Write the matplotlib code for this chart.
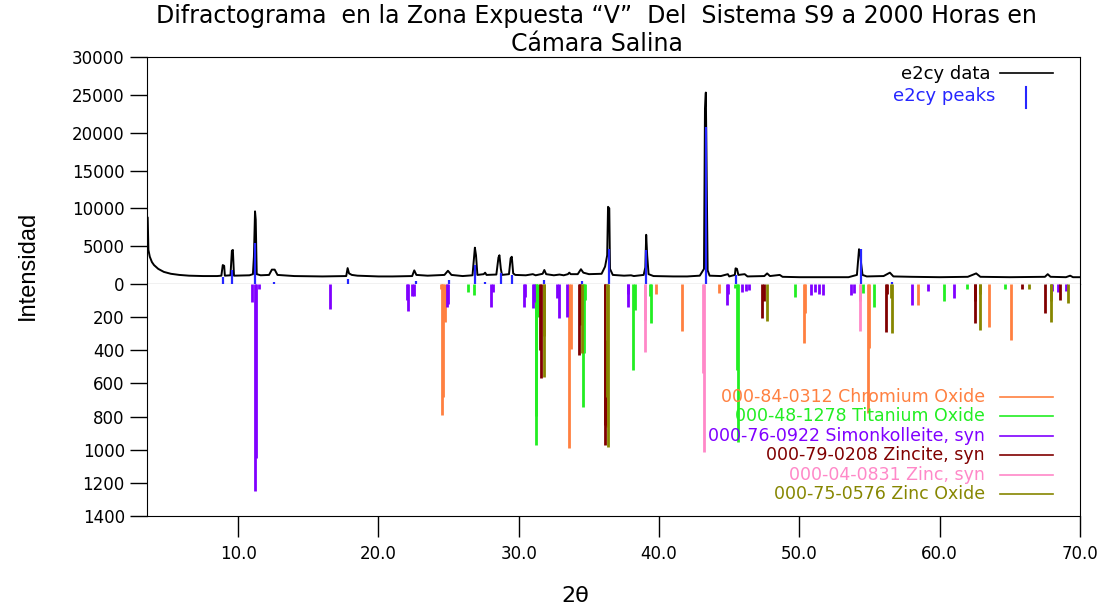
import numpy as np
import matplotlib
matplotlib.use("Agg")
import matplotlib.pyplot as plt

trace_2theta = [3.50, 3.55, 3.60, 3.70, 3.85, 4.00, 4.30, 4.70, 5.20, 5.80, 6.50, 7.50,
                8.50, 8.80, 8.90, 9.00, 9.05, 9.45, 9.55, 9.62, 9.70, 10.80, 11.05, 11.12,
                11.20, 11.25, 11.32, 11.60, 12.20, 12.40, 12.60, 12.80, 14.00, 16.00, 17.70,
                17.80, 17.90, 18.10, 18.50, 20.00, 21.00, 22.40, 22.55, 22.70, 23.50, 24.70,
                24.95, 25.20, 26.00, 26.70, 26.80, 26.87, 26.95, 27.05, 27.50, 27.60, 27.70,
                28.40, 28.55, 28.62, 28.72, 28.80, 29.30, 29.42, 29.50, 29.60, 29.75, 30.50,
                31.00, 31.20, 31.70, 31.82, 31.95, 32.50, 32.90, 33.20, 33.50, 33.60, 33.70,
                34.20, 34.43, 34.60, 35.00, 35.90, 36.15, 36.30, 36.36, 36.45, 36.50, 36.70,
                37.50, 38.00, 38.20, 38.90, 39.02, 39.08, 39.15, 39.25, 39.60, 41.00, 42.00,
                42.90, 43.20, 43.27, 43.33, 43.40, 43.46, 43.60, 44.40, 44.90, 45.00, 45.40,
                45.45, 45.55, 45.65, 46.10, 46.30, 47.50, 47.70, 47.90, 48.60, 48.80, 50.00,
                52.00, 53.50, 54.10, 54.25, 54.35, 54.40, 54.50, 54.80, 56.00, 56.45, 56.70,
                58.00, 60.00, 62.00, 62.60, 62.90, 65.00, 67.50, 67.70, 67.90, 69.00, 69.30,
                69.50, 70.00]
trace_counts = [8800, 8800, 4500, 3600, 2900, 2500, 2000, 1600, 1350, 1200, 1100, 1050,
                1050, 1100, 2500, 2400, 1100, 1150, 4400, 4500, 1100, 1150, 1300, 3600,
                9600, 8500, 1300, 1150, 1200, 1900, 1900, 1200, 1050, 1000, 1050,
                2100, 1400, 1200, 1100, 1000, 1000, 1050, 1800, 1200, 1100, 1200,
                1750, 1200, 1050, 1150, 3300, 4800, 3800, 1200, 1300, 1500, 1200,
                1250, 3500, 3800, 2000, 1200, 1300, 3400, 3600, 1400, 1200, 1150,
                1300, 1150, 1350, 1850, 1300, 1150, 1250, 1150, 1300, 1500, 1300,
                1300, 1950, 1500, 1300, 1350, 2300, 3800, 10200, 10000, 2000, 1200,
                1100, 1150, 1050, 1200, 2200, 6500, 3800, 1300, 1050, 1000, 1000,
                1100, 2000, 23200, 25300, 12900, 1800, 1100, 1050, 1300, 1000, 1200,
                2070, 2000, 1200, 1300, 1000, 1050, 1400, 1050, 1200, 950, 900,
                900, 900, 1200, 4600, 3800, 2700, 1200, 1000, 1050, 1500, 1000,
                950, 900, 950, 1400, 950, 900, 950, 1300, 950, 900, 1100,
                900, 900]

# e2cy peaks (blue sticks)
peak_2theta = [8.94, 9.58, 11.22, 12.58, 17.85, 22.67, 25.05, 26.88, 27.60, 28.70,
               29.53, 31.80, 34.48, 36.42, 39.10, 43.35, 45.45, 54.37, 56.57]
peak_counts = [900, 1850, 5400, 200, 660, 400, 500, 2500, 300, 1400,
               1200, 500, 400, 4600, 4500, 20700, 1200, 4600, 250]

# reference patterns (lower panel)
cr_2theta = [24.45, 24.55, 24.60, 24.75, 33.58, 33.74, 36.20, 36.24, 39.80, 41.60,
             44.27, 50.33, 50.38, 54.91, 54.95, 58.45, 63.50, 65.10]
cr_int = [30, 790, 680, 227, 991, 394, 338, 860, 60, 282,
          56, 354, 177, 780, 388, 127, 262, 338]

ti_2theta = [26.40, 26.80, 31.20, 31.23, 31.35, 34.60, 34.65, 34.75, 38.17, 38.25,
             39.35, 39.40, 45.40, 45.55, 45.60, 49.70, 54.50, 55.35, 60.30, 61.96, 64.65]
ti_int = [46, 66, 797, 971, 197, 740, 418, 97, 519, 155,
          75, 233, 25, 519, 951, 76, 55, 137, 100, 30, 30]

sk_2theta = [11.00, 11.20, 11.25, 11.45, 16.55, 22.00, 22.10, 22.40, 22.55, 24.85,
             24.95, 27.99, 28.15, 30.37, 30.42, 31.04, 31.10, 32.74, 32.88, 33.45,
             34.35, 37.75, 37.81, 44.82, 44.90, 45.90, 46.20, 46.40, 50.80, 51.10,
             51.40, 51.70, 53.70, 53.90, 58.03, 59.20, 61.00, 68.00, 68.40, 69.00]
sk_int = [107, 1250, 1050, 30, 153, 97, 161, 72, 70, 139,
          119, 139, 50, 137, 78, 145, 109, 87, 207, 197,
          80, 60, 137, 127, 60, 46, 40, 35, 66, 50,
          60, 66, 66, 55, 127, 40, 87, 40, 50, 40]

zn_ite_2theta = [31.50, 31.55, 34.29, 34.35, 36.12, 36.15, 47.35, 47.45, 56.20, 56.25,
                 62.50, 62.55, 65.84, 67.50, 68.60]
zn_ite_int = [398, 569, 428, 247, 971, 851, 203, 100, 288, 60,
              233, 100, 30, 177, 97]

zinc_2theta = [36.30, 38.97, 39.00, 43.15, 43.20, 54.31, 54.35]
zinc_int = [338, 408, 217, 539, 1012, 282, 100]

zno_2theta = [31.78, 31.82, 34.50, 36.30, 36.33, 47.66, 56.55, 56.60, 62.85, 62.90,
              66.40, 67.90, 67.96, 69.18]
zno_int = [314, 559, 418, 680, 981, 221, 85, 298, 60, 278,
           30, 100, 227, 117]

phase_labels = ["000-84-0312 Chromium Oxide", "000-48-1278 Titanium Oxide",
                "000-76-0922 Simonkolleite, syn", "000-79-0208 Zincite, syn",
                "000-04-0831 Zinc, syn", "000-75-0576 Zinc Oxide"]
phase_colors = ["#ff8040", "#22ee22", "#8000ff", "#800000", "#ff88c8", "#868600"]
phase_x = [cr_2theta, ti_2theta, sk_2theta, zn_ite_2theta, zinc_2theta, zno_2theta]
phase_y = [cr_int, ti_int, sk_int, zn_ite_int, zinc_int, zno_int]

upper_ticks = [0, 5000, 10000, 15000, 20000, 25000, 30000]
lower_ticks = [200, 400, 600, 800, 1000, 1200, 1400]
x_ticks = [10, 20, 30, 40, 50, 60, 70]

W, H = 1109, 609
fig = plt.figure(figsize=(W / 100, H / 100), dpi=100)

def frac_x(px):
    return px / W

def frac_y(py):
    return 1 - py / H

left, right = frac_x(147), frac_x(1080)
ax1 = fig.add_axes([left, frac_y(284), right - left, frac_y(57) - frac_y(284)])
ax2 = fig.add_axes([left, frac_y(516), right - left, frac_y(284) - frac_y(516)], sharex=ax1)

tick_font = dict(family="DejaVu Sans", size=12)

# upper panel
ax1.plot(trace_2theta, trace_counts, color="black", lw=1.4, zorder=2)
ax1.vlines(peak_2theta, 0, peak_counts, colors="#2626ff", lw=1.6, zorder=3)
ax1.set_xlim(3.5, 70)
ax1.set_ylim(0, 30000)
ax1.set_yticks(upper_ticks)
ax1.set_yticklabels([str(t) for t in upper_ticks], **tick_font)
ax1.tick_params(axis="x", bottom=False, labelbottom=False)
ax1.tick_params(axis="y", direction="out", length=12, width=1, pad=4)

ax1.plot([0.914, 0.971], [0.930, 0.930], color="black", lw=1.2, transform=ax1.transAxes)
ax1.text(0.904, 0.925, "e2cy data", color="black", ha="right", va="center",
         fontsize=13, transform=ax1.transAxes)
ax1.plot([0.942, 0.942], [0.775, 0.870], color="#2626ff", lw=1.5, transform=ax1.transAxes)
ax1.text(0.909, 0.828, "e2cy peaks", color="#2626ff", ha="right", va="center",
         fontsize=13, transform=ax1.transAxes)

# lower panel (inverted)
for xs, ys, c in zip(phase_x, phase_y, phase_colors):
    ax2.vlines(xs, 0, ys, colors=c, lw=2.0)
ax2.set_ylim(1400, 0)
ax2.set_yticks(lower_ticks)
ax2.set_yticklabels([str(t) for t in lower_ticks], **tick_font)
ax2.set_xticks(x_ticks)
ax2.set_xticklabels([f"{t:.1f}" for t in x_ticks], **tick_font)
ax2.tick_params(axis="y", direction="out", length=12, width=1, pad=4)
ax2.tick_params(axis="x", direction="out", length=15, width=1, pad=6)
ax2.spines["top"].set_visible(False)

for i, (lab, c) in enumerate(zip(phase_labels, phase_colors)):
    yy = 0.513 - i * 0.0836
    ax2.text(0.898, yy, lab, color=c, ha="right", va="center", fontsize=12.5,
             transform=ax2.transAxes)
    ax2.plot([0.914, 0.971], [yy, yy], color=c, lw=1.2, transform=ax2.transAxes)

# titles and axis names
fig.text(0.538, frac_y(16), "Difractograma  en la Zona Expuesta \u201cV\u201d  Del  Sistema S9 a 2000 Horas en",
         ha="center", va="center", fontsize=17)
fig.text(0.538, frac_y(44), "C\u00e1mara Salina", ha="center", va="center", fontsize=17)
fig.text(frac_x(28), frac_y(265), "Intensidad", rotation=90, ha="center", va="center",
         fontsize=17, family="Liberation Sans")
fig.text(frac_x(575), frac_y(596), "2\u03b8", ha="center", va="center", fontsize=16)

fig.savefig("out.png", dpi=100)
